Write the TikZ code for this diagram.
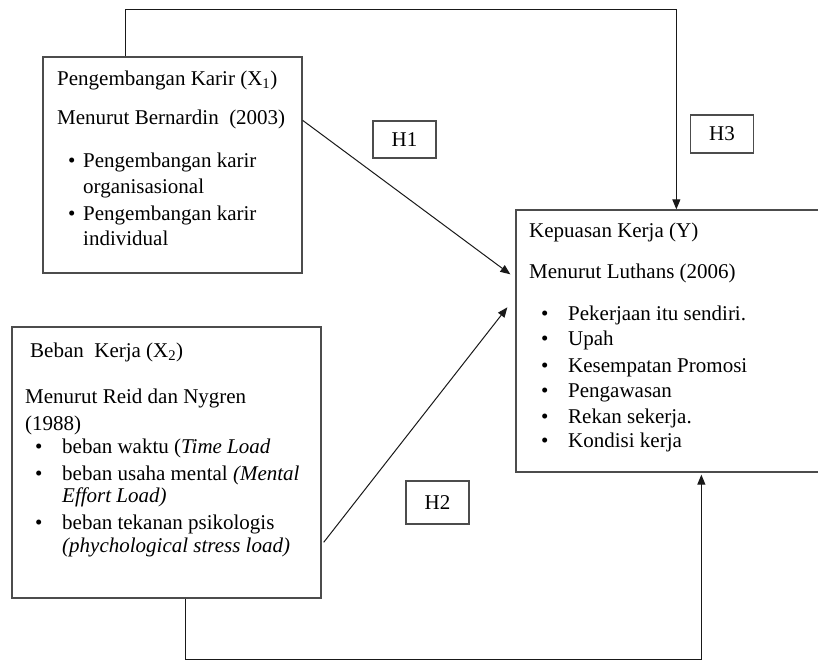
\documentclass[tikz,border=0pt]{standalone}
\usepackage{fontspec}
\setmainfont{Liberation Serif}
\usetikzlibrary{arrows.meta}

% bullet, then the item text at a fixed indent
\newcommand{\bulletrow}[3]{\hspace*{#1}\makebox[#2][l]{\textbullet}#3}

\tikzset{
  panel/.style={draw=black!70, line width=1.3pt, inner sep=0pt},
  hypo/.style={draw=black!70, line width=1.2pt, inner sep=0pt, minimum width=63pt},
  body/.style={anchor=base west, inner sep=0pt},
  link/.style={draw=black!90, line width=1pt},
  arr/.style={link, -{Triangle[length=10pt,width=8pt]}}
}

\begin{document}
\begin{tikzpicture}[x=1pt,y=1pt,font=\fontsize{21}{25}\selectfont]
\useasboundingbox (0,0) rectangle (818,-661);
\clip (0,0) rectangle (818,-661);
% the three variable boxes
\node[panel, minimum width=259pt, minimum height=216pt] (karir) at (172.5,-165) {};
\node[panel, minimum width=309pt, minimum height=271pt] (beban) at (166.5,-462.5) {};
\node[panel, minimum width=314pt, minimum height=262pt] (kepuasan) at (673,-341) {};
% their texts
\node[body] (karirtxt) at (57,-85) {\parbox[t]{300pt}{\raggedright
Pengembangan Karir (X\textsubscript{1})\\[14pt]
Menurut Bernardin\ \ (2003)\\[18pt]
\bulletrow{11pt}{15pt}{Pengembangan karir}\\[1pt]
\hspace*{26pt}organisasional\\[2pt]
\bulletrow{11pt}{15pt}{Pengembangan karir}\\
\hspace*{26pt}individual}};
\node[body] (bebantxt) at (25,-357) {\parbox[t]{300pt}{\raggedright
\hspace*{5pt}Beban\ \ Kerja (X\textsubscript{2})\\[21pt]
Menurut Reid dan Nygren\\[2pt]
(1988)\\[-2pt]
\bulletrow{10pt}{27pt}{beban waktu (\textit{Time Load}}\\[2pt]
\bulletrow{10pt}{27pt}{beban usaha mental \textit{(Mental}}\\[-3pt]
\hspace*{37pt}\textit{Effort Load)}\\[2pt]
\bulletrow{10pt}{27pt}{beban tekanan psikologis}\\[-2pt]
\hspace*{37pt}\textit{(phychological stress load)}}};
\node[body] (kepuasantxt) at (529,-237) {\parbox[t]{300pt}{\raggedright
Kepuasan Kerja (Y)\\[16pt]
Menurut Luthans (2006)\\[17pt]
\bulletrow{12pt}{27pt}{Pekerjaan itu sendiri.}\\
\bulletrow{12pt}{27pt}{Upah}\\[2pt]
\bulletrow{12pt}{27pt}{Kesempatan Promosi}\\
\bulletrow{12pt}{27pt}{Pengawasan}\\[1pt]
\bulletrow{12pt}{27pt}{Rekan sekerja.}\\[-1pt]
\bulletrow{12pt}{27pt}{Kondisi kerja}}};
% hypothesis labels
\node[hypo, minimum height=37pt] (h1) at (404.5,-139.5) {H1};
\node[hypo, minimum height=43pt] (h2) at (437.5,-502.5) {H2};
\node[hypo, minimum height=38pt] (h3) at (722,-134) {H3};
% paths
\coordinate (topbend) at (400,-9.5);
\coordinate (botbend) at (450,-659.5);
\draw[arr] ([yshift=-64pt]karir.north east) -- ([xshift=-5pt,yshift=-65pt]kepuasan.north west);
\draw[arr] ([xshift=2pt,yshift=-216pt]beban.north east) -- ([xshift=-8pt,yshift=-98pt]kepuasan.north west);
\draw[arr] ([xshift=83pt]karir.north west) |- (topbend) -| ([xshift=161pt]kepuasan.north west);
\draw[arr] ([xshift=174pt]beban.south west) |- (botbend) -| ([xshift=186pt,yshift=-2pt]kepuasan.south west);
\end{tikzpicture}
\end{document}
